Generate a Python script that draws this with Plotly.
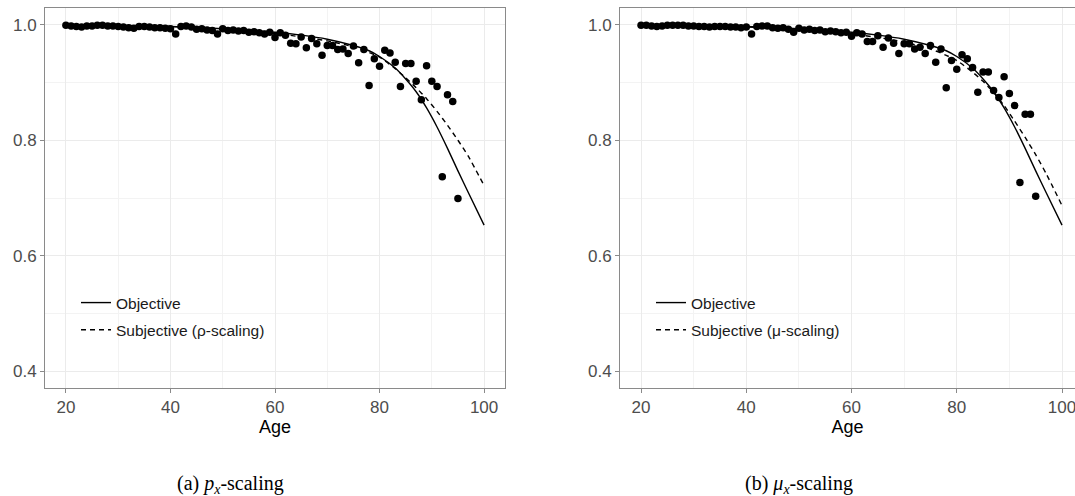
import plotly.graph_objects as go

# ---------------- data ----------------
ages = list(range(20, 96))

obs_left = [
    0.999, 0.998, 0.997, 0.996, 0.998, 0.998, 0.999, 0.999, 0.998, 0.998,
    0.997, 0.996, 0.995, 0.994, 0.997, 0.997, 0.996, 0.995, 0.995, 0.994,
    0.993, 0.984, 0.997, 0.998, 0.996, 0.992, 0.993, 0.991, 0.990, 0.984,
    0.993, 0.990, 0.991, 0.989, 0.990, 0.987, 0.988, 0.986, 0.984, 0.987,
    0.978, 0.986, 0.982, 0.968, 0.967, 0.979, 0.960, 0.976, 0.967, 0.947,
    0.964, 0.964, 0.957, 0.958, 0.950, 0.963, 0.934, 0.957, 0.895, 0.941,
    0.928, 0.956, 0.951, 0.935, 0.893, 0.933, 0.933, 0.902, 0.870, 0.929,
    0.902, 0.893, 0.737, 0.879, 0.867, 0.699,
]

obs_right = [
    0.999, 0.999, 0.998, 0.997, 0.998, 0.999, 0.999, 0.999, 0.999, 0.998,
    0.998, 0.997, 0.997, 0.996, 0.997, 0.997, 0.997, 0.996, 0.996, 0.995,
    0.996, 0.984, 0.997, 0.998, 0.998, 0.995, 0.994, 0.995, 0.992, 0.987,
    0.994, 0.991, 0.992, 0.990, 0.991, 0.988, 0.989, 0.988, 0.986, 0.987,
    0.980, 0.986, 0.984, 0.971, 0.971, 0.981, 0.961, 0.977, 0.968, 0.950,
    0.967, 0.967, 0.958, 0.961, 0.950, 0.964, 0.935, 0.958, 0.891, 0.938,
    0.923, 0.948, 0.941, 0.926, 0.883, 0.918, 0.918, 0.886, 0.874, 0.910,
    0.881, 0.860, 0.727, 0.845, 0.845, 0.703,
]

curve_ages = [20, 30, 40, 50, 60, 65, 70, 75, 78, 80, 83, 85, 87, 89, 91, 93, 95, 97, 100]
objective = [1.000, 0.999, 0.997, 0.993, 0.987, 0.982, 0.975, 0.964, 0.955, 0.945,
             0.925, 0.906, 0.884, 0.856, 0.823, 0.786, 0.747, 0.709, 0.653]
subjective_rho = [1.000, 0.999, 0.997, 0.992, 0.985, 0.979, 0.972, 0.962, 0.952, 0.944,
                  0.924, 0.908, 0.891, 0.872, 0.850, 0.826, 0.800, 0.772, 0.7215]
subjective_mu = [1.000, 0.999, 0.996, 0.992, 0.984, 0.978, 0.970, 0.958, 0.947, 0.938,
                 0.918, 0.902, 0.883, 0.860, 0.833, 0.805, 0.775, 0.742, 0.687]

legend_labels_left = ["Objective", "Subjective (\u03c1-scaling)"]
legend_labels_right = ["Objective", "Subjective (\u03bc-scaling)"]
captions = ["(a) <i>p<sub>x</sub></i>-scaling", "(b) <i>\u03bc<sub>x</sub></i>-scaling"]
y_ticks = [0.4, 0.6, 0.8, 1.0]
x_ticks = [20, 40, 60, 80, 100]

# ---------------- figure ----------------
W, H = 1075, 496
fig = go.Figure()

LINE_W = 1.4
panels = [
    dict(xa="x", ya="y", leg="legend", obs=obs_left, subj=subjective_rho, labels=legend_labels_left),
    dict(xa="x2", ya="y2", leg="legend2", obs=obs_right, subj=subjective_mu, labels=legend_labels_right),
]
for p in panels:
    fig.add_trace(go.Scatter(x=ages, y=p["obs"], mode="markers", xaxis=p["xa"], yaxis=p["ya"],
                             marker=dict(color="black", size=7.5), showlegend=False, hoverinfo="skip"))
    fig.add_trace(go.Scatter(x=curve_ages, y=objective, mode="lines", xaxis=p["xa"], yaxis=p["ya"],
                             line=dict(color="black", width=LINE_W, shape="spline", smoothing=0.6),
                             name=p["labels"][0], legend=p["leg"], legendgroup=p["leg"] + "a"))
    fig.add_trace(go.Scatter(x=curve_ages, y=p["subj"], mode="lines", xaxis=p["xa"], yaxis=p["ya"],
                             line=dict(color="black", width=LINE_W, dash="5px,4px", shape="spline", smoothing=0.6),
                             name=p["labels"][1], legend=p["leg"], legendgroup=p["leg"] + "b"))

top_px, bot_px = 8, 388
ydom = [1 - bot_px / H, 1 - top_px / H]
yrange = [0.371, 1.029]

grid_major = "#ebebeb"
grid_minor = "#f3f3f3"
border = "#8a8a8a"
tickfont = dict(family="Liberation Sans, Arial, sans-serif", size=17, color="#4d4d4d")

def xaxis(domain, rng, mirror):
    return dict(domain=domain, range=rng, tickmode="array", tickvals=x_ticks,
                ticks="outside", ticklen=4, tickcolor=border, tickwidth=1,
                tickfont=tickfont, ticklabeloverflow="allow",
                showgrid=True, gridcolor=grid_major, gridwidth=1,
                minor=dict(tickmode="array", tickvals=[10, 30, 50, 70, 90], showgrid=True,
                           gridcolor=grid_minor, gridwidth=1, ticks=""),
                showline=True, linecolor=border, linewidth=1, mirror=mirror, zeroline=False,
                title=dict(text="Age", font=dict(family="Liberation Sans, Arial, sans-serif", size=18, color="black"),
                           standoff=2))

def yaxis(anchor, mirror):
    return dict(domain=ydom, range=yrange, anchor=anchor, tickmode="array", tickvals=y_ticks,
                ticktext=["%.1f" % v for v in y_ticks],
                ticks="outside", ticklen=4, tickcolor=border, tickwidth=1,
                tickfont=tickfont, showgrid=True, gridcolor=grid_major, gridwidth=1,
                minor=dict(tickmode="array", tickvals=[0.5, 0.7, 0.9], showgrid=True,
                           gridcolor=grid_minor, gridwidth=1, ticks=""),
                showline=True, linecolor=border, linewidth=1, mirror=mirror, zeroline=False)

legfont = dict(family="Liberation Sans, Arial, sans-serif", size=15.5, color="#1a1a1a")

fig.update_layout(
    width=W, height=H, autosize=False,
    margin=dict(l=0, r=0, t=0, b=0, pad=0),
    paper_bgcolor="white", plot_bgcolor="white",
    xaxis=xaxis([45 / W, 505 / W], [16, 104], True) | dict(anchor="y"),
    yaxis=yaxis("x", True),
    xaxis2=xaxis([620 / W, 1.0], [16, 102.47], True) | dict(anchor="y2"),
    yaxis2=yaxis("x2", False),
    legend=dict(x=76 / W, y=1 - 286 / H, xanchor="left", yanchor="top", bgcolor="rgba(0,0,0,0)",
                font=legfont, traceorder="grouped", tracegroupgap=4),
    legend2=dict(x=651 / W, y=1 - 286 / H, xanchor="left", yanchor="top", bgcolor="rgba(0,0,0,0)",
                 font=legfont, traceorder="grouped", tracegroupgap=4),
    showlegend=True,
)

capfont = dict(family="Liberation Serif, Times New Roman, serif", size=20, color="black")
for cx, txt in zip([230, 799], captions):
    fig.add_annotation(x=cx / W, y=1 - 484 / H, xref="paper", yref="paper", text=txt,
                       showarrow=False, font=capfont, xanchor="center", yanchor="middle")

fig.write_html("out.html")
